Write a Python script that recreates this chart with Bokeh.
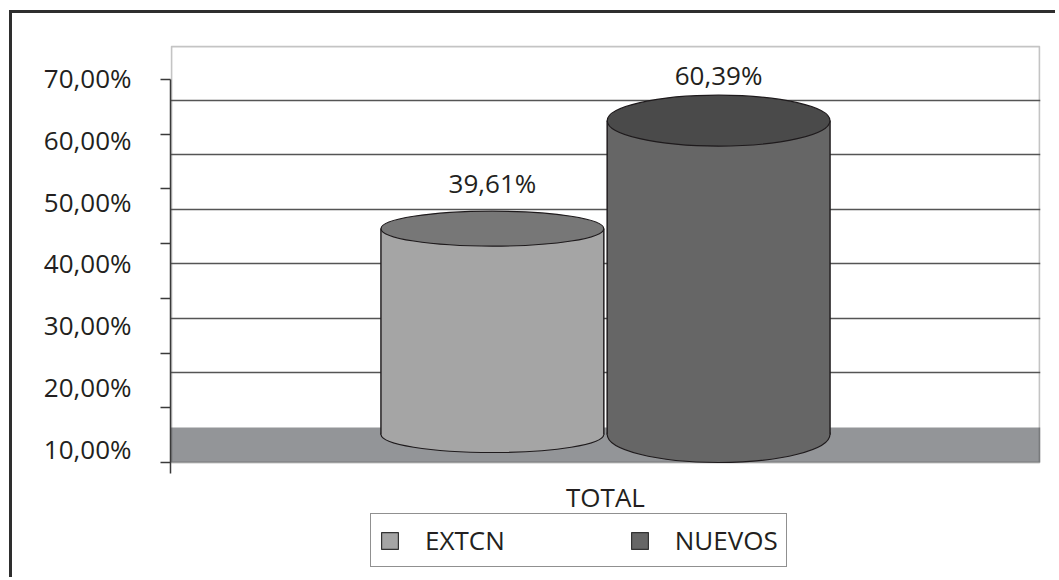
from bokeh.plotting import figure
from bokeh.models import (Range1d, FactorRange, LinearAxis, CategoricalAxis, FixedTicker, Grid,
                          BoxAnnotation, Legend, LegendItem, ColumnDataSource, CustomJSTickFormatter)
from bokeh.transform import dodge
from bokeh.core.properties import value
from bokeh.embed import file_html
from bokeh.resources import INLINE

# ---- data ----
category = ["TOTAL"]
series = ["EXTCN", "NUEVOS"]
values = [39.61, 60.39]
value_labels = ["39,61%", "60,39%"]
ytick_values = [10, 20, 30, 40, 50, 60, 70]
ytick_labels = ["10,00%", "20,00%", "30,00%", "40,00%", "50,00%", "60,00%", "70,00%"]
front_ticks = [10, 20, 30, 40, 50, 60, 70, 80]
wall_lines = [20, 30, 40, 50, 60, 70]

# ---- style / layout ----
FONT = "Open Sans"
TEXT = "#231f20"
side_colors = ["#a5a5a5", "#666666"]
top_colors = ["#777777", "#4a4a4a"]
edge = "#1e1a1c"
offsets = [-0.13, 0.13]
bar_w = 0.256
top_h = [35, 51]
bottom_h = [36, 56]

FRAME_TOP, FRAME_BOTTOM = 45, 580  # page pixels
FRAME_W = 870


def rng(v_ref, px_ref, px_per_unit):
    return Range1d(v_ref - (FRAME_BOTTOM - px_ref) / px_per_unit,
                   v_ref + (px_ref - FRAME_TOP) / px_per_unit)


p = figure(width=1046, height=567,
           x_range=FactorRange(*category, range_padding=0),
           y_range=rng(0, 434, 5.197),
           output_backend="svg", toolbar_location=None,
           x_axis_location=None, y_axis_location=None,
           min_border_left=158, min_border_right=18, min_border_top=32, min_border_bottom=0)
p.grid.visible = False
p.styles = {"border-left": "3px solid #2e2e2e", "border-top": "3px solid #2e2e2e",
            "margin-left": "9px", "margin-top": "10px"}
front = rng(10, 462, 5.471)
p.extra_y_ranges = {
    "front": front,
    "lab": rng(10, 448, 6.167),
    "wall": rng(10, 427, 5.457),
}
p.background_fill_color = "white"
p.border_fill_color = "white"
p.outline_line_color = None

# floor (from the back-wall 10% line down to the front edge)
floor_bottom = 10 - (462 - 427) / 5.457
p.add_layout(BoxAnnotation(top=10, bottom=floor_bottom, y_range_name="wall",
                           fill_color="#939598", fill_alpha=1, line_color=None, level="underlay"))
# back wall border (kept 1px inside the frame so it is not clipped)
p.add_layout(BoxAnnotation(bottom=10, top=front.end - 1.0 / 5.471,
                           left=1.0 / FRAME_W, right=1 - 1.0 / FRAME_W,
                           y_range_name="front", fill_alpha=0,
                           line_color="#3a3a3a", line_width=1.8, level="underlay"))
# back wall gridlines
p.add_layout(Grid(dimension=1, ticker=FixedTicker(ticks=wall_lines), y_range_name="wall",
                  grid_line_color="#555555", grid_line_width=1.5))

# axes
tick_axis = LinearAxis(y_range_name="front", ticker=FixedTicker(ticks=front_ticks), bounds=(8, 80),
                       formatter=CustomJSTickFormatter(code="return ''"),
                       major_tick_out=10, major_tick_in=0, minor_tick_line_color=None,
                       axis_line_color="#3a3a3a", major_tick_line_color="#3a3a3a",
                       major_tick_line_width=1.5, axis_line_width=1.5,
                       major_label_standoff=0, major_label_text_font_size="1px")
p.add_layout(tick_axis, "left")
label_axis = LinearAxis(y_range_name="lab", ticker=FixedTicker(ticks=ytick_values),
                        major_label_overrides={float(v): t for v, t in zip(ytick_values, ytick_labels)},
                        axis_line_color=None, major_tick_line_color=None, minor_tick_line_color=None,
                        major_label_standoff=23, major_label_text_font=FONT,
                        major_label_text_font_size="26px", major_label_text_color=TEXT)
p.add_layout(label_axis, "left")
xaxis = CategoricalAxis(y_range_name="front", fixed_location=10,
                        major_tick_line_color=None, axis_line_color=None, minor_tick_line_color=None,
                        major_label_standoff=10, major_label_text_font=FONT,
                        major_label_text_font_size="26px", major_label_text_color=TEXT)
p.add_layout(xaxis, "below")

legend_items = []
for i, name in enumerate(series):
    src = ColumnDataSource(dict(cat=category, val=[values[i]], lab=[value_labels[i]]))
    xc = dodge("cat", offsets[i], range=p.x_range)
    xl = dodge("cat", offsets[i] - bar_w / 2, range=p.x_range)
    xr = dodge("cat", offsets[i] + bar_w / 2, range=p.x_range)
    swatch = p.vbar(x=xc, bottom=0, top="val", width=bar_w, fill_color=side_colors[i],
                    line_color="#333333", line_width=1.2, source=src)
    p.ellipse(x=xc, y=0, width=bar_w, height=bottom_h[i], height_units="screen",
              fill_color=side_colors[i], line_color=edge, line_width=1.2, source=src)
    p.vbar(x=xc, bottom=0, top="val", width=bar_w, fill_color=side_colors[i],
           line_color=None, source=src)
    p.segment(x0=xl, y0=0, x1=xl, y1="val", line_color=edge, line_width=1.2, source=src)
    p.segment(x0=xr, y0=0, x1=xr, y1="val", line_color=edge, line_width=1.2, source=src)
    p.ellipse(x=xc, y="val", width=bar_w, height=top_h[i], height_units="screen",
              fill_color=top_colors[i], line_color=edge, line_width=1.2, source=src)
    p.text(x=xc, y="val", text="lab", y_offset=-46, text_align="center", text_baseline="middle",
           text_font=value(FONT), text_font_size="26px", text_color=TEXT, source=src)
    legend_items.append(LegendItem(label=name, renderers=[swatch]))

legend = Legend(items=legend_items, orientation="horizontal", location=(200, 13),
                glyph_width=21, glyph_height=21, label_standoff=25, spacing=124, padding=8,
                margin=0,
                border_line_color="#222222", border_line_width=1.5,
                label_text_font=FONT, label_text_font_size="26px", label_text_color=TEXT,
                background_fill_color="white", background_fill_alpha=1)
p.add_layout(legend)

open("out.html", "w").write(file_html(p, INLINE))
